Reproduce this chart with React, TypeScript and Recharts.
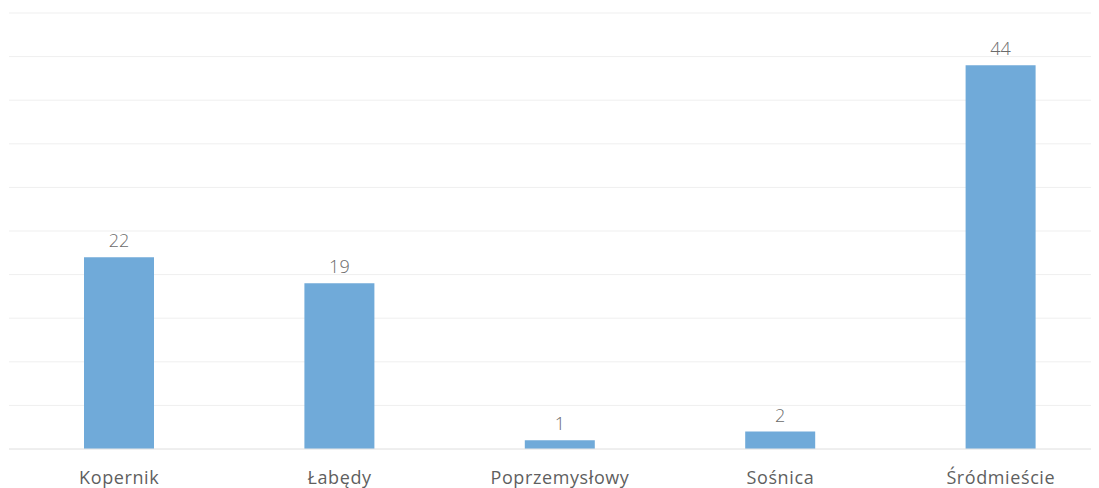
import React from 'react';
import { BarChart, Bar, XAxis, YAxis, CartesianGrid, LabelList } from 'recharts';

const districts = ['Kopernik', 'Łabędy', 'Poprzemysłowy', 'Sośnica', 'Śródmieście'];
const counts = [22, 19, 1, 2, 44];
const yTicks = [0, 5, 10, 15, 20, 25, 30, 35, 40, 45, 50];

const data = districts.map((name, i) => ({ name, value: counts[i] }));

const font = '"Open Sans", "Noto Sans", sans-serif';

export default function App() {
    return (
        <div style={{ width: 1091, height: 480, overflow: 'hidden', background: '#fff' }}>
            <BarChart
                width={1103}
                height={480}
                data={data}
                margin={{ top: 5, right: 0, left: 1, bottom: 9 }}
            >
                <CartesianGrid vertical={false} stroke="#efefef" />
                <YAxis hide domain={[0, 50]} ticks={yTicks} />
                <XAxis
                    dataKey="name"
                    height={30}
                    tickLine={false}
                    axisLine={{ stroke: '#e6e6e6' }}
                    tickMargin={16}
                    interval={0}
                    tick={{ fill: '#5f5f5f', fontSize: 18, fontFamily: font, letterSpacing: 0.6 }}
                />
                <Bar dataKey="value" fill="#70aad9" barSize={70} isAnimationActive={false}>
                    <LabelList
                        dataKey="value"
                        position="top"
                        offset={10}
                        style={{ fill: '#6b6b6b', fontSize: 18, fontFamily: font, fontWeight: 300 }}
                    />
                </Bar>
            </BarChart>
        </div>
    );
}
